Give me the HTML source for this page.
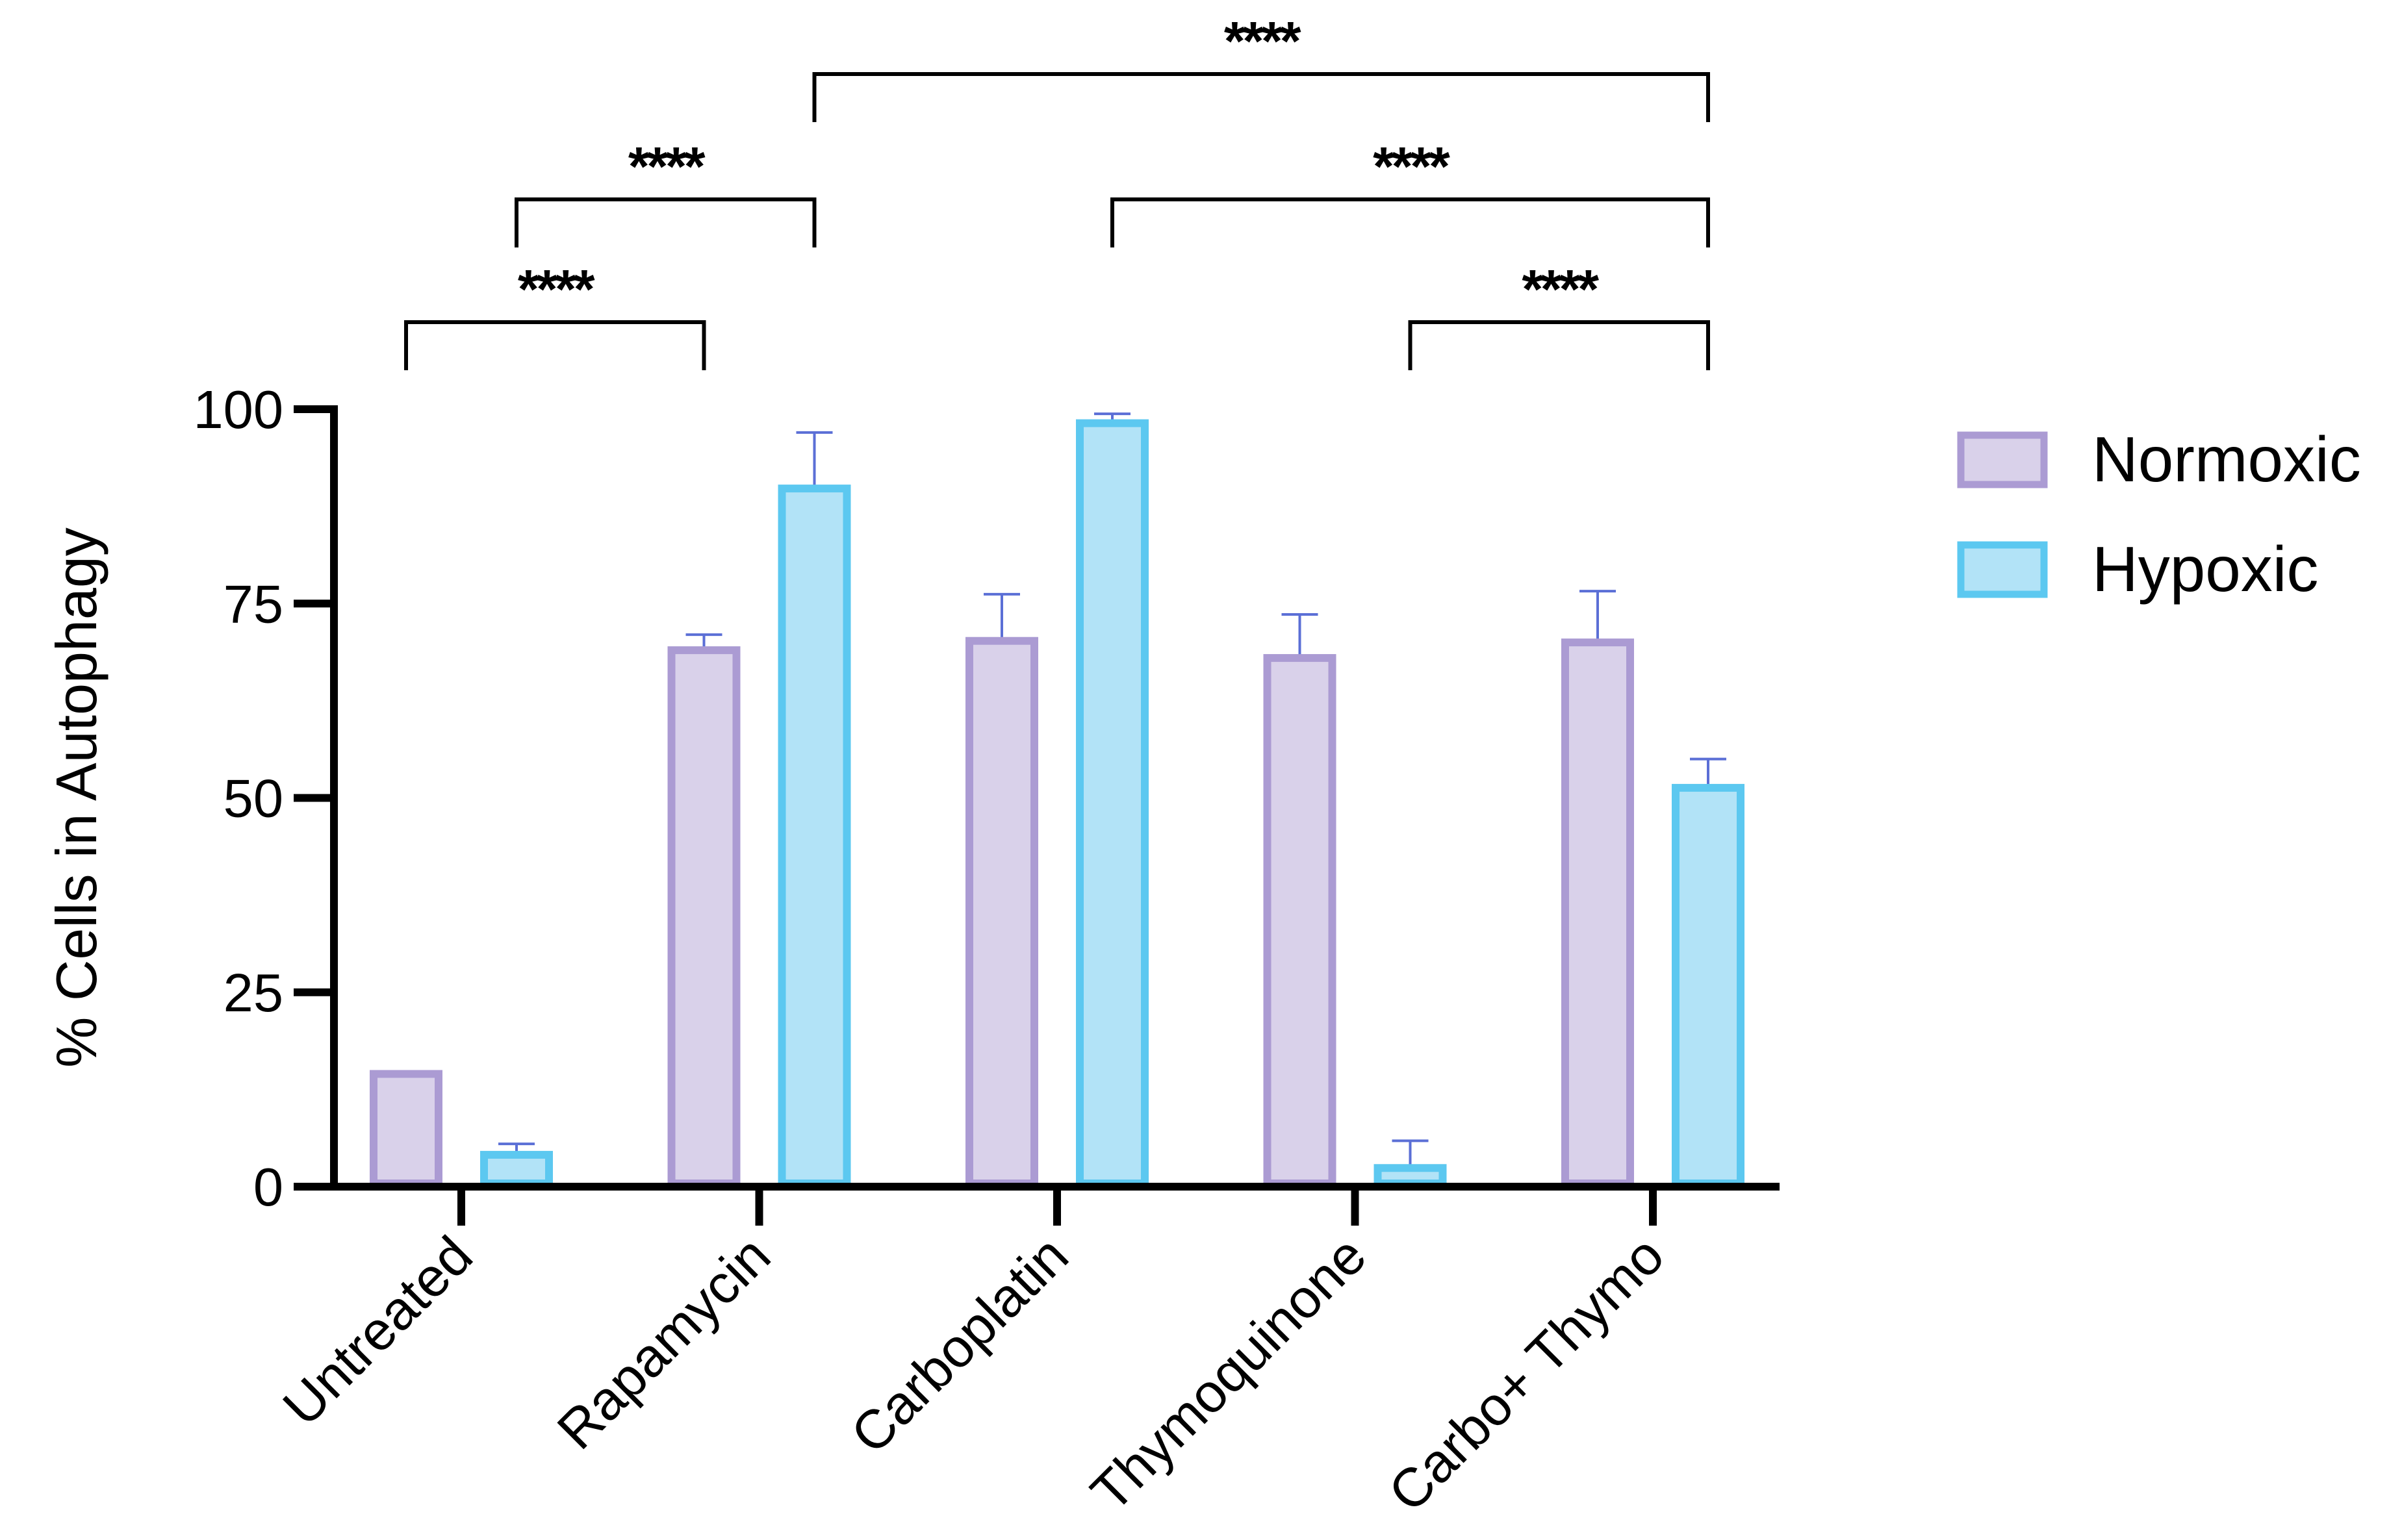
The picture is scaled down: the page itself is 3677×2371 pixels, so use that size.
<!DOCTYPE html>
<html><head><meta charset="utf-8"><style>
html,body{margin:0;padding:0;background:#fff;}
svg{display:block;font-family:"Liberation Sans",Arial,sans-serif;}
</style></head><body>
<svg id="chart" width="3677" height="2371" viewBox="0 0 3677 2371" xmlns="http://www.w3.org/2000/svg">
<rect width="3677" height="2371" fill="#fff"/>
<g id="plot"></g>
</svg>
<script>
const categories = ["Untreated","Rapamycin","Carboplatin","Thymoquinone","Carbo+ Thymo"];
const normoxic = [14.5, 69, 70.2, 68, 70];
const normoxicErr = [0, 2, 6, 5.6, 6.6];
const hypoxic = [4.1, 89.8, 98.2, 2.4, 51.3];
const hypoxicErr = [1.4, 7.2, 1.2, 3.5, 3.7];
const yTicks = [0, 25, 50, 75, 100];
// brackets: [catA, seriesA(0=N,1=H), catB, seriesB, level]
const brackets = [[0,0,1,0,0],[0,1,1,1,1],[1,1,4,1,2],[2,1,4,1,1],[3,1,4,1,0]];
const sigLabels = ["****","****","****","****","****"];

const NS = "http://www.w3.org/2000/svg";
const g = document.getElementById('plot');
const X0 = 514, XEND = 2739, Y0 = 1827, Y100 = 630;
const yS = v => Y0 - (Y0 - Y100) * v / 100;
const xC = i => 710 + i * 458.5;
const barX = (i, s) => xC(i) + (s === 0 ? -85 : 85);
const BW = 100;
function el(tag, attrs, parent) {
  const e = document.createElementNS(NS, tag);
  for (const k in attrs) e.setAttribute(k, attrs[k]);
  (parent || g).appendChild(e);
  return e;
}
[[normoxic, normoxicErr, "#d9d1ea", "#ab9bd3"], [hypoxic, hypoxicErr, "#b2e3f7", "#5cc8f0"]].forEach((ser, s) => {
  ser[0].forEach((v, i) => {
    const cx = barX(i, s);
    if (ser[1][i] > 0) {
      const l = el('line', {x1: cx, x2: cx, y1: yS(v), y2: yS(v + ser[1][i]), stroke: "#5b6fd6", "stroke-width": 4});
      
      
      const c = el('line', {x1: cx - 28, x2: cx + 28, y1: yS(v + ser[1][i]), y2: yS(v + ser[1][i]), stroke: "#5b6fd6", "stroke-width": 4});
      
      
    }
    const r = el('rect', {x: cx - BW/2, y: yS(v), width: BW, height: Y0 - yS(v) - 5, fill: ser[2], stroke: ser[3], "stroke-width": 12});
    
    
  });
});
const ya = el('line', {x1: X0, x2: X0, y1: Y100 - 6, y2: Y0 + 6, stroke: "#000", "stroke-width": 12});


const xa = el('line', {x1: X0 - 6, x2: XEND, y1: Y0, y2: Y0, stroke: "#000", "stroke-width": 12});


yTicks.forEach(t => {
  const tk = el('line', {x1: 452, x2: X0, y1: yS(t), y2: yS(t), stroke: "#000", "stroke-width": 12});
  
  
  const tl = el('text', {x: 436, y: yS(t) + 29, "text-anchor": "end", "font-size": 83, fill: "#000"});
  tl.textContent = t;
  
  
});
categories.forEach((c, i) => {
  const tk = el('line', {x1: xC(i), x2: xC(i), y1: Y0, y2: Y0 + 60, stroke: "#000", "stroke-width": 12});
  
  
  const tl = el('text', {x: 0, y: 0, "text-anchor": "end", "font-size": 84, fill: "#000", transform: `translate(${xC(i) + 22},${Y0 + 112}) rotate(-45)`});
  tl.textContent = c;
  
  
});
const yt = el('text', {x: 0, y: 0, "text-anchor": "middle", "font-size": 88, fill: "#000", transform: "translate(148,1228) rotate(-90)"});
yt.textContent = "% Cells in Autophagy";


const levelY = [496, 307, 114];
brackets.forEach((b, k) => {
  const xa1 = barX(b[0], b[1]), xb1 = barX(b[2], b[3]), yy = levelY[b[4]];
  const p = el('path', {d: `M${xa1},${yy + 74} V${yy} H${xb1} V${yy + 74}`, fill: "none", stroke: "#000", "stroke-width": 6});
  
  
  const st = el('text', {x: (xa1 + xb1) / 2, y: yy - 22, "text-anchor": "middle", "font-size": 84, "font-weight": "bold", "letter-spacing": -4, fill: "#000"});
  st.textContent = sigLabels[k];
  
  
});
[["Normoxic", "#d9d1ea", "#ab9bd3", 670], ["Hypoxic", "#b2e3f7", "#5cc8f0", 839]].forEach((L, i) => {
  const r = el('rect', {x: 3018, y: L[3], width: 128, height: 76, fill: L[1], stroke: L[2], "stroke-width": 11});
  
  
  const t = el('text', {x: 3220, y: L[3] + 71, "font-size": 98, fill: "#000"});
  t.textContent = L[0];
  
  
});
</script>
</body></html>
